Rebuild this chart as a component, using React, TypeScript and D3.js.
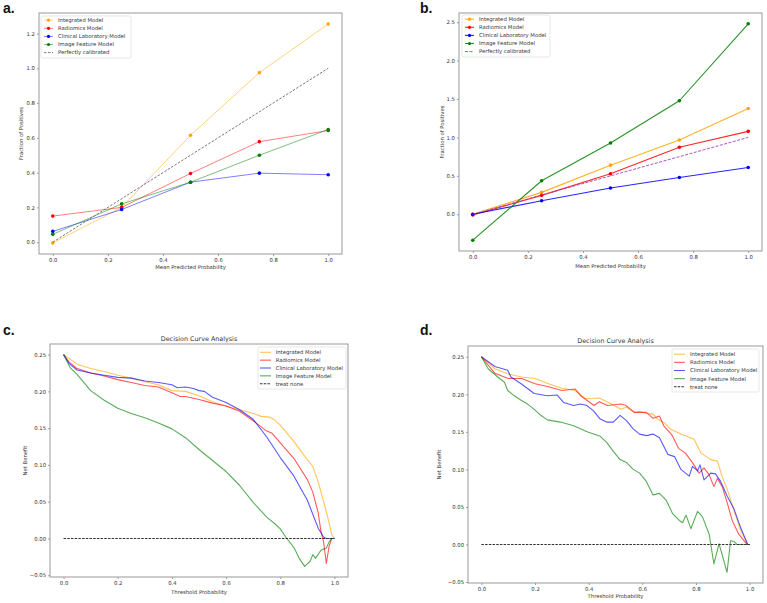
import React, { useEffect, useRef } from 'react';
import * as d3 from 'd3';

// ---- data ----
const modelNames = ['Integrated Model', 'Radiomics Model', 'Clinical Laboratory Model', 'Image Feature Model'];
const modelColors = ['#ffa500', '#ff0000', '#0000ff', '#008000'];

// calibration curves (panels a, b)
const binCentres = [0, 0.25, 0.5, 0.75, 1.0];
const aIntegrated = [-0.005, 0.2, 0.615, 0.975, 1.255];
const aRadiomics = [0.15, 0.2, 0.395, 0.578, 0.642];
const aClinical = [0.062, 0.188, 0.345, 0.397, 0.388];
const aImage = [0.045, 0.22, 0.345, 0.5, 0.648];

const bIntegrated = [0.0, 0.285, 0.639, 0.967, 1.377];
const bRadiomics = [-0.01, 0.246, 0.527, 0.872, 1.079];
const bClinical = [0.0, 0.177, 0.341, 0.479, 0.609];
const bImage = [-0.337, 0.436, 0.928, 1.477, 2.478];

const perfectLine = [[0, 0], [1, 1]];

// decision curves (panels c, d): [threshold, net benefit]
const cIntegrated = [[0, 0.25], [0.05, 0.237], [0.1, 0.231], [0.15, 0.227], [0.2, 0.222], [0.25, 0.218], [0.3, 0.213], [0.35, 0.209], [0.4, 0.201], [0.45, 0.2], [0.5, 0.194], [0.55, 0.186], [0.6, 0.18], [0.65, 0.175], [0.7, 0.17], [0.73, 0.166], [0.76, 0.165], [0.78, 0.161], [0.8, 0.154], [0.85, 0.132], [0.88, 0.117], [0.9, 0.107], [0.92, 0.098], [0.94, 0.077], [0.96, 0.05], [0.98, 0.022], [0.99, 0.005], [1.0, 0]];
const cRadiomics = [[0, 0.25], [0.02, 0.24], [0.05, 0.231], [0.1, 0.225], [0.15, 0.221], [0.2, 0.216], [0.25, 0.212], [0.3, 0.208], [0.35, 0.206], [0.4, 0.198], [0.43, 0.193], [0.45, 0.193], [0.5, 0.189], [0.55, 0.184], [0.6, 0.18], [0.65, 0.173], [0.7, 0.16], [0.75, 0.146], [0.77, 0.143], [0.8, 0.13], [0.85, 0.109], [0.9, 0.08], [0.92, 0.063], [0.94, 0.035], [0.95, 0.01], [0.96, -0.005], [0.97, -0.034], [0.98, -0.011], [0.99, 0], [1.0, 0]];
const cClinical = [[0, 0.25], [0.02, 0.238], [0.05, 0.229], [0.1, 0.225], [0.15, 0.222], [0.2, 0.219], [0.25, 0.218], [0.3, 0.214], [0.35, 0.212], [0.4, 0.209], [0.42, 0.205], [0.45, 0.206], [0.48, 0.204], [0.5, 0.201], [0.52, 0.2], [0.55, 0.192], [0.6, 0.185], [0.65, 0.175], [0.7, 0.162], [0.75, 0.138], [0.8, 0.11], [0.85, 0.085], [0.9, 0.052], [0.92, 0.033], [0.94, 0.014], [0.96, 0.002], [0.97, 0], [1.0, 0]];
const cImage = [[0, 0.25], [0.025, 0.232], [0.05, 0.223], [0.1, 0.201], [0.15, 0.188], [0.2, 0.177], [0.25, 0.17], [0.3, 0.164], [0.35, 0.157], [0.4, 0.149], [0.45, 0.137], [0.5, 0.121], [0.55, 0.106], [0.6, 0.091], [0.65, 0.072], [0.7, 0.049], [0.75, 0.029], [0.78, 0.02], [0.8, 0.013], [0.82, 0.002], [0.85, -0.012], [0.87, -0.027], [0.89, -0.038], [0.91, -0.031], [0.92, -0.022], [0.93, -0.027], [0.95, -0.016], [0.97, -0.013], [0.98, -0.005], [0.99, 0], [1.0, 0]];

const dIntegrated = [[0, 0.25], [0.05, 0.234], [0.1, 0.227], [0.15, 0.223], [0.2, 0.221], [0.25, 0.214], [0.3, 0.208], [0.35, 0.205], [0.39, 0.194], [0.44, 0.195], [0.49, 0.186], [0.52, 0.18], [0.54, 0.183], [0.57, 0.176], [0.59, 0.177], [0.62, 0.174], [0.64, 0.174], [0.66, 0.166], [0.683, 0.162], [0.707, 0.153], [0.744, 0.147], [0.793, 0.14], [0.818, 0.122], [0.855, 0.113], [0.88, 0.111], [0.898, 0.09], [0.917, 0.073], [0.941, 0.046], [0.966, 0.019], [0.993, 0], [1.0, 0]];
const dRadiomics = [[0, 0.25], [0.05, 0.228], [0.1, 0.221], [0.15, 0.221], [0.2, 0.214], [0.25, 0.21], [0.3, 0.205], [0.35, 0.207], [0.37, 0.198], [0.42, 0.185], [0.44, 0.19], [0.47, 0.185], [0.52, 0.187], [0.54, 0.185], [0.57, 0.176], [0.615, 0.176], [0.64, 0.168], [0.664, 0.171], [0.68, 0.158], [0.71, 0.146], [0.735, 0.128], [0.76, 0.122], [0.785, 0.11], [0.812, 0.095], [0.83, 0.102], [0.849, 0.093], [0.867, 0.077], [0.88, 0.088], [0.898, 0.077], [0.917, 0.055], [0.935, 0.032], [0.959, 0.014], [0.99, 0], [1.0, 0]];
const dClinical = [[0, 0.25], [0.05, 0.237], [0.098, 0.232], [0.11, 0.223], [0.148, 0.214], [0.197, 0.201], [0.246, 0.198], [0.283, 0.199], [0.307, 0.189], [0.344, 0.185], [0.369, 0.187], [0.394, 0.185], [0.418, 0.178], [0.443, 0.167], [0.467, 0.163], [0.492, 0.163], [0.517, 0.172], [0.541, 0.165], [0.566, 0.154], [0.59, 0.147], [0.615, 0.145], [0.64, 0.147], [0.664, 0.142], [0.695, 0.12], [0.72, 0.117], [0.744, 0.1], [0.775, 0.091], [0.787, 0.104], [0.806, 0.098], [0.815, 0.106], [0.83, 0.086], [0.855, 0.095], [0.873, 0.094], [0.892, 0.084], [0.917, 0.064], [0.941, 0.048], [0.966, 0.023], [0.993, 0], [1.0, 0]];
const dImage = [[0, 0.25], [0.025, 0.234], [0.061, 0.223], [0.086, 0.216], [0.098, 0.205], [0.123, 0.198], [0.148, 0.192], [0.172, 0.187], [0.197, 0.18], [0.221, 0.172], [0.246, 0.166], [0.295, 0.163], [0.344, 0.158], [0.394, 0.15], [0.443, 0.144], [0.467, 0.136], [0.492, 0.124], [0.517, 0.113], [0.541, 0.109], [0.566, 0.1], [0.59, 0.095], [0.615, 0.084], [0.64, 0.066], [0.664, 0.068], [0.689, 0.059], [0.713, 0.041], [0.738, 0.032], [0.75, 0.029], [0.763, 0.039], [0.781, 0.021], [0.806, 0.044], [0.824, 0.037], [0.849, 0.014], [0.867, -0.026], [0.886, 0.001], [0.916, -0.037], [0.929, 0.005], [0.941, 0.004], [0.953, 0], [1.0, 0]];

const treatNone = [[0, 0], [1, 0]];

const probTicks = [0, 0.2, 0.4, 0.6, 0.8, 1.0];
const aYTicks = [0, 0.2, 0.4, 0.6, 0.8, 1.0, 1.2];
const bYTicks = [0, 0.5, 1.0, 1.5, 2.0, 2.5];
const dcaYTicks = [-0.05, 0, 0.05, 0.1, 0.15, 0.2, 0.25];

const FONT = '"DejaVu Sans", sans-serif';
const TXT = '#333';

const zip = (ys) => ys.map((y, i) => [binCentres[i], y]);

// matplotlib-like 5% margins
const pad = (lo, hi) => {
  const m = (hi - lo) * 0.05;
  return [lo - m, hi + m];
};

function drawPanel(svg, p) {
  const [x0, y0, x1, y1] = p.box;
  const allPts = p.series.flatMap((s) => s.pts).concat(p.ref.pts);
  const x = d3.scaleLinear().domain(pad(...d3.extent(allPts, (d) => d[0]))).range([x0, x1]);
  const y = d3.scaleLinear().domain(pad(...d3.extent(allPts, (d) => d[1]))).range([y1, y0]);

  const g = svg.append('g');

  // axes
  const xa = g.append('g').attr('transform', `translate(0,${y1})`)
    .call(d3.axisBottom(x).tickValues(probTicks).tickFormat(d3.format('.1f')).tickSize(2).tickPadding(2));
  const ya = g.append('g').attr('transform', `translate(${x0},0)`)
    .call(d3.axisLeft(y).tickValues(p.yTicks).tickFormat(d3.format(p.yFmt)).tickSize(2).tickPadding(2));
  [xa, ya].forEach((a) => {
    a.select('.domain').remove();
    a.selectAll('line').attr('stroke', '#777').attr('stroke-width', 0.7);
    a.selectAll('text').attr('font-family', FONT).attr('font-size', 5.3).attr('fill', TXT);
  });

  const line = d3.line().x((d) => x(d[0])).y((d) => y(d[1]));

  const plot = g.append('g');
  p.series.forEach((s) => {
    plot.append('path').datum(s.pts).attr('d', line).attr('fill', 'none')
      .attr('stroke', s.color).attr('stroke-width', p.lineW).attr('stroke-opacity', p.lineOpacity)
      .attr('stroke-linejoin', 'round');
    if (p.markers) {
      plot.selectAll(null).data(s.pts).enter().append('circle')
        .attr('cx', (d) => x(d[0])).attr('cy', (d) => y(d[1])).attr('r', 1.8).attr('fill', s.color);
    }
  });
  plot.append('path').datum(p.ref.pts).attr('d', line).attr('fill', 'none')
    .attr('stroke', p.ref.color).attr('stroke-width', p.ref.width).attr('stroke-dasharray', p.ref.dash);

  // frame
  g.append('rect').attr('x', x0).attr('y', y0).attr('width', x1 - x0).attr('height', y1 - y0)
    .attr('fill', 'none').attr('stroke', '#999').attr('stroke-width', 1);

  // legend
  const L = p.legend;
  const lg = g.append('g');
  lg.append('rect').attr('x', L.x).attr('y', L.y).attr('width', L.w).attr('height', L.h).attr('rx', 1.5)
    .attr('fill', 'white').attr('fill-opacity', 0.85).attr('stroke', '#ddd').attr('stroke-width', 0.7);
  const entries = p.series.map((s) => ({ ...s, dash: null, marker: p.markers, op: p.lineOpacity }))
    .concat([{ name: p.ref.name, color: p.ref.color, dash: p.ref.dash, marker: false, op: 1 }]);
  entries.forEach((e, i) => {
    const ry = L.row0 + i * L.rowH;
    lg.append('line').attr('x1', L.hx).attr('x2', L.hx + L.hw).attr('y1', ry).attr('y2', ry)
      .attr('stroke', e.color).attr('stroke-width', e.dash ? p.ref.width : p.lineW)
      .attr('stroke-opacity', e.op).attr('stroke-dasharray', e.dash);
    if (e.marker) lg.append('circle').attr('cx', L.hx + L.hw / 2).attr('cy', ry).attr('r', 1.6).attr('fill', e.color);
    lg.append('text').attr('x', L.tx).attr('y', ry).attr('dy', '0.35em').attr('font-family', FONT)
      .attr('font-size', 5.3).attr('fill', TXT).text(e.name);
  });

  // labels
  g.append('text').attr('x', (x0 + x1) / 2).attr('y', p.xLabelY).attr('text-anchor', 'middle')
    .attr('font-family', FONT).attr('font-size', 5.3).attr('fill', TXT).text(p.xLabel);
  g.append('text').attr('transform', `translate(${p.yLabelX},${(y0 + y1) / 2}) rotate(-90)`)
    .attr('text-anchor', 'middle').attr('font-family', FONT).attr('font-size', 5.3).attr('fill', TXT).text(p.yLabel);
  if (p.title) {
    g.append('text').attr('x', (x0 + x1) / 2).attr('y', y0 - 3).attr('text-anchor', 'middle')
      .attr('font-family', FONT).attr('font-size', 6.4).attr('fill', TXT).text(p.title);
  }
  g.append('text').attr('x', p.letter.x).attr('y', p.letter.y).attr('font-family', 'Liberation Sans, Arial, sans-serif')
    .attr('font-weight', 'bold').attr('font-size', 14).attr('fill', '#111').text(p.letter.t);
}

const App = () => {
  const svgRef = useRef(null);

  useEffect(() => {
    const svg = d3.select(svgRef.current);
    const calib = (ys) => ys.map((v, i) => ({ name: modelNames[i], color: modelColors[i], pts: zip(v) }));
    const dca = (ss) => ss.map((v, i) => ({ name: modelNames[i], color: modelColors[i], pts: v }));

    drawPanel(svg, {
      box: [39, 13, 342, 254],
      series: calib([aIntegrated, aRadiomics, aClinical, aImage]),
      ref: { name: 'Perfectly calibrated', color: '#555', dash: '2.5,1.5', width: 0.8, pts: perfectLine },
      markers: true, lineW: 1, lineOpacity: 0.5,
      yTicks: aYTicks, yFmt: '.1f',
      xLabel: 'Mean Predicted Probability', xLabelY: 269,
      yLabel: 'Fraction of Positives', yLabelX: 23,
      legend: { x: 41, y: 16, w: 90, h: 42, row0: 20.2, rowH: 8.1, hx: 44, hw: 9, tx: 58 },
      letter: { x: 3, y: 13, t: 'a.' },
    });
    drawPanel(svg, {
      box: [459, 13, 762, 251],
      series: calib([bIntegrated, bRadiomics, bClinical, bImage]),
      ref: { name: 'Perfectly calibrated', color: '#a040b8', dash: '3,1.5', width: 0.9, pts: perfectLine },
      markers: true, lineW: 1.1, lineOpacity: 0.85,
      yTicks: bYTicks, yFmt: '.1f',
      xLabel: 'Mean Predicted Probability', xLabelY: 268,
      yLabel: 'Fraction of Positives', yLabelX: 444,
      legend: { x: 462, y: 15, w: 88, h: 42, row0: 19.2, rowH: 8.1, hx: 465, hw: 9, tx: 479 },
      letter: { x: 420, y: 13, t: 'b.' },
    });
    drawPanel(svg, {
      box: [50, 344, 348, 577],
      series: dca([cIntegrated, cRadiomics, cClinical, cImage]),
      ref: { name: 'treat none', color: '#333', dash: '2.5,1.2', width: 1.1, pts: treatNone },
      markers: false, lineW: 1.1, lineOpacity: 0.65,
      yTicks: dcaYTicks, yFmt: '.2f',
      xLabel: 'Threshold Probability', xLabelY: 594,
      yLabel: 'Net Benefit', yLabelX: 26.5,
      title: 'Decision Curve Analysis',
      legend: { x: 258, y: 347, w: 88, h: 42, row0: 352.3, rowH: 7.85, hx: 260, hw: 11, tx: 275.7 },
      letter: { x: 3, y: 335, t: 'c.' },
    });
    drawPanel(svg, {
      box: [468, 346, 763, 583],
      series: dca([dIntegrated, dRadiomics, dClinical, dImage]),
      ref: { name: 'treat none', color: '#333', dash: '2.5,1.2', width: 1.1, pts: treatNone },
      markers: false, lineW: 1.1, lineOpacity: 0.65,
      yTicks: dcaYTicks, yFmt: '.2f',
      xLabel: 'Threshold Probability', xLabelY: 598,
      yLabel: 'Net Benefit', yLabelX: 440.5,
      title: 'Decision Curve Analysis',
      legend: { x: 672, y: 349, w: 87, h: 43, row0: 354.2, rowH: 8.15, hx: 674, hw: 11, tx: 690 },
      letter: { x: 420, y: 335, t: 'd.' },
    });

    return () => {
      svg.selectAll('*').remove();
    };
  }, []);

  return (
    <svg ref={svgRef} width={767} height={603}
      style={{ position: 'absolute', left: 0, top: 0, background: 'white' }} />
  );
};

export default App;
